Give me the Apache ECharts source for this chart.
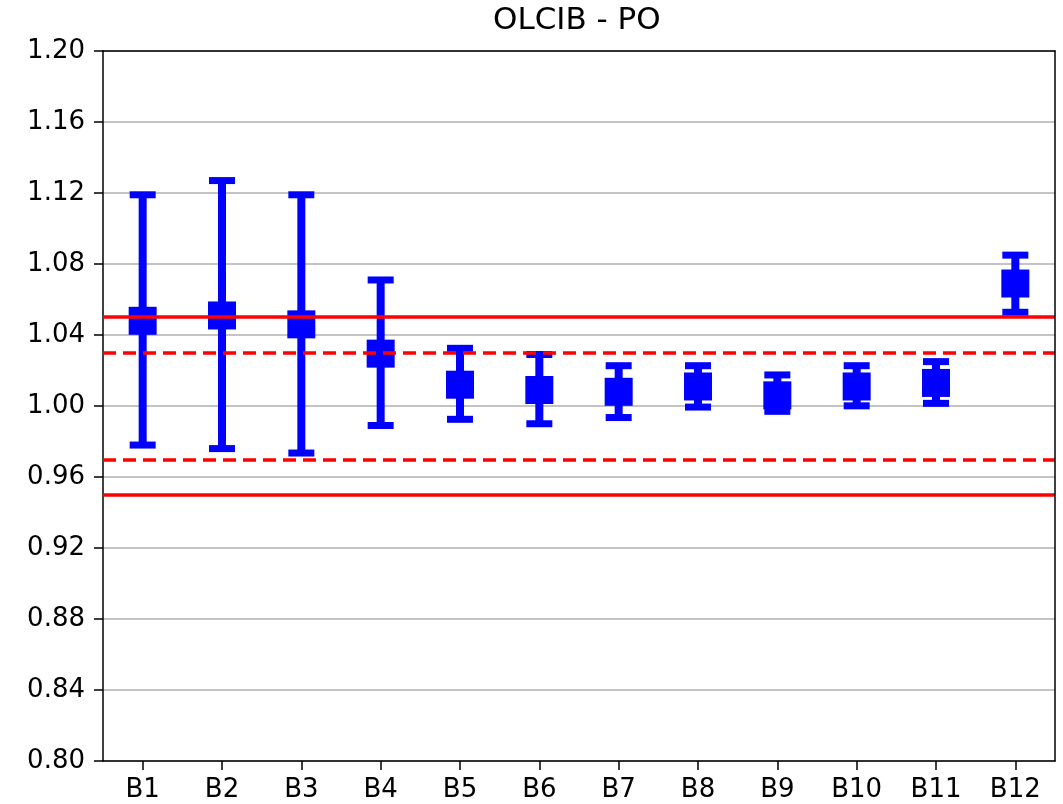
<!DOCTYPE html>
<html>
<head>
<meta charset="utf-8">
<script src="https://cdn.jsdelivr.net/npm/echarts@6/dist/echarts.min.js"></script>
<style>
html,body{margin:0;padding:0;background:#fff;}
#chart{width:1063px;height:804px;}
</style>
</head>
<body>
<div id="chart"></div>
<script>
var categories = ['B1','B2','B3','B4','B5','B6','B7','B8','B9','B10','B11','B12'];
var centers = [1.048, 1.051, 1.046, 1.0295, 1.012, 1.009, 1.008, 1.011, 1.006, 1.011, 1.013, 1.069];
var lows    = [0.978, 0.976, 0.9735, 0.989, 0.9925, 0.990, 0.9935, 0.9994, 0.997, 1.0001, 1.0015, 1.0528];
var highs   = [1.119, 1.127, 1.119, 1.071, 1.0325, 1.029, 1.0227, 1.0227, 1.0175, 1.0227, 1.025, 1.085];
var solidLimits = [1.05, 0.95];
var dashedLimits = [1.03, 0.97];
var yTicks = {min: 0.80, max: 1.20, interval: 0.04};

var FONT = 'DejaVu Sans';
var BLUE = '#0000ff';
var RED = '#ff0000';

var errData = categories.map(function(c, i){ return [i, lows[i], highs[i]]; });
var ptData = categories.map(function(c, i){ return [i, centers[i]]; });

function renderErr(params, api) {
  var x = api.value(0);
  var lo = api.coord([x, api.value(1)]);
  var hi = api.coord([x, api.value(2)]);
  var capW = 26, capH = 7, lw = 8;
  return {
    type: 'group',
    children: [
      {type: 'rect', shape: {x: lo[0] - lw/2, y: hi[1], width: lw, height: lo[1] - hi[1]}, style: {fill: BLUE}},
      {type: 'rect', shape: {x: hi[0] - capW/2, y: hi[1] - capH/2, width: capW, height: capH}, style: {fill: BLUE}},
      {type: 'rect', shape: {x: lo[0] - capW/2, y: lo[1] - capH/2, width: capW, height: capH}, style: {fill: BLUE}}
    ]
  };
}
function renderPt(params, api) {
  var p = api.coord([api.value(0), api.value(1)]);
  var s = 28;
  return {type: 'rect', shape: {x: p[0] - s/2, y: p[1] - s/2, width: s, height: s}, style: {fill: BLUE}};
}

var frameAxis = {
  axisLine: {show: true, onZero: false, lineStyle: {color: '#000', width: 1.5}},
  axisTick: {show: false}, axisLabel: {show: false}, splitLine: {show: false}
};

var chart = echarts.init(document.getElementById('chart'), null, {renderer: 'canvas'});
chart.setOption({
  animation: false,
  backgroundColor: '#fff',
  title: {
    text: 'OLCIB - PO',
    left: 493, top: 5, padding: 0,
    textStyle: {fontFamily: FONT, fontSize: 31, fontWeight: 'normal', color: '#000'}
  },
  grid: {left: 103, right: 8, top: 51, bottom: 43, show: false, containLabel: false},
  xAxis: [{
    type: 'category',
    data: categories,
    boundaryGap: true,
    axisLine: {show: true, onZero: false, lineStyle: {color: '#000', width: 1.5}},
    axisTick: {show: true, alignWithLabel: true, length: 9, lineStyle: {color: '#000', width: 1.5}},
    axisLabel: {fontFamily: FONT, fontSize: 26, color: '#000', margin: 16, interval: 0},
    splitLine: {show: false}
  }, Object.assign({type: 'category', data: categories, position: 'top', boundaryGap: true, z: 5}, frameAxis)],
  yAxis: [{
    type: 'value',
    min: yTicks.min, max: yTicks.max, interval: yTicks.interval,
    axisLine: {show: true, onZero: false, lineStyle: {color: '#000', width: 1.5}},
    axisTick: {show: true, length: 9, lineStyle: {color: '#000', width: 1.5}},
    axisLabel: {fontFamily: FONT, fontSize: 26, color: '#000', margin: 18, formatter: function(v){ return v.toFixed(2); }},
    splitLine: {show: true, lineStyle: {color: '#b0b0b0', width: 1.5}}
  }, Object.assign({type: 'value', position: 'right', min: yTicks.min, max: yTicks.max, interval: yTicks.interval, z: 5}, frameAxis)],
  series: [
    {
      type: 'line', data: [], z: 1, silent: true,
      markLine: {
        silent: true, symbol: ['none','none'], label: {show: false},
        lineStyle: {color: RED, width: 3.5, type: [13, 7]},
        data: dashedLimits.map(function(v){ return {yAxis: v}; })
      }
    },
    {type: 'custom', renderItem: renderErr, data: errData, z: 2, encode: {x: 0, y: [1, 2]}},
    {
      type: 'line', data: [], z: 3, silent: true,
      markLine: {
        silent: true, symbol: ['none','none'], label: {show: false},
        lineStyle: {color: RED, width: 3.5, type: 'solid'},
        data: solidLimits.map(function(v){ return {yAxis: v}; })
      }
    },
    {type: 'custom', renderItem: renderPt, data: ptData, z: 4, encode: {x: 0, y: 1}}
  ]
});
</script>
</body>
</html>
